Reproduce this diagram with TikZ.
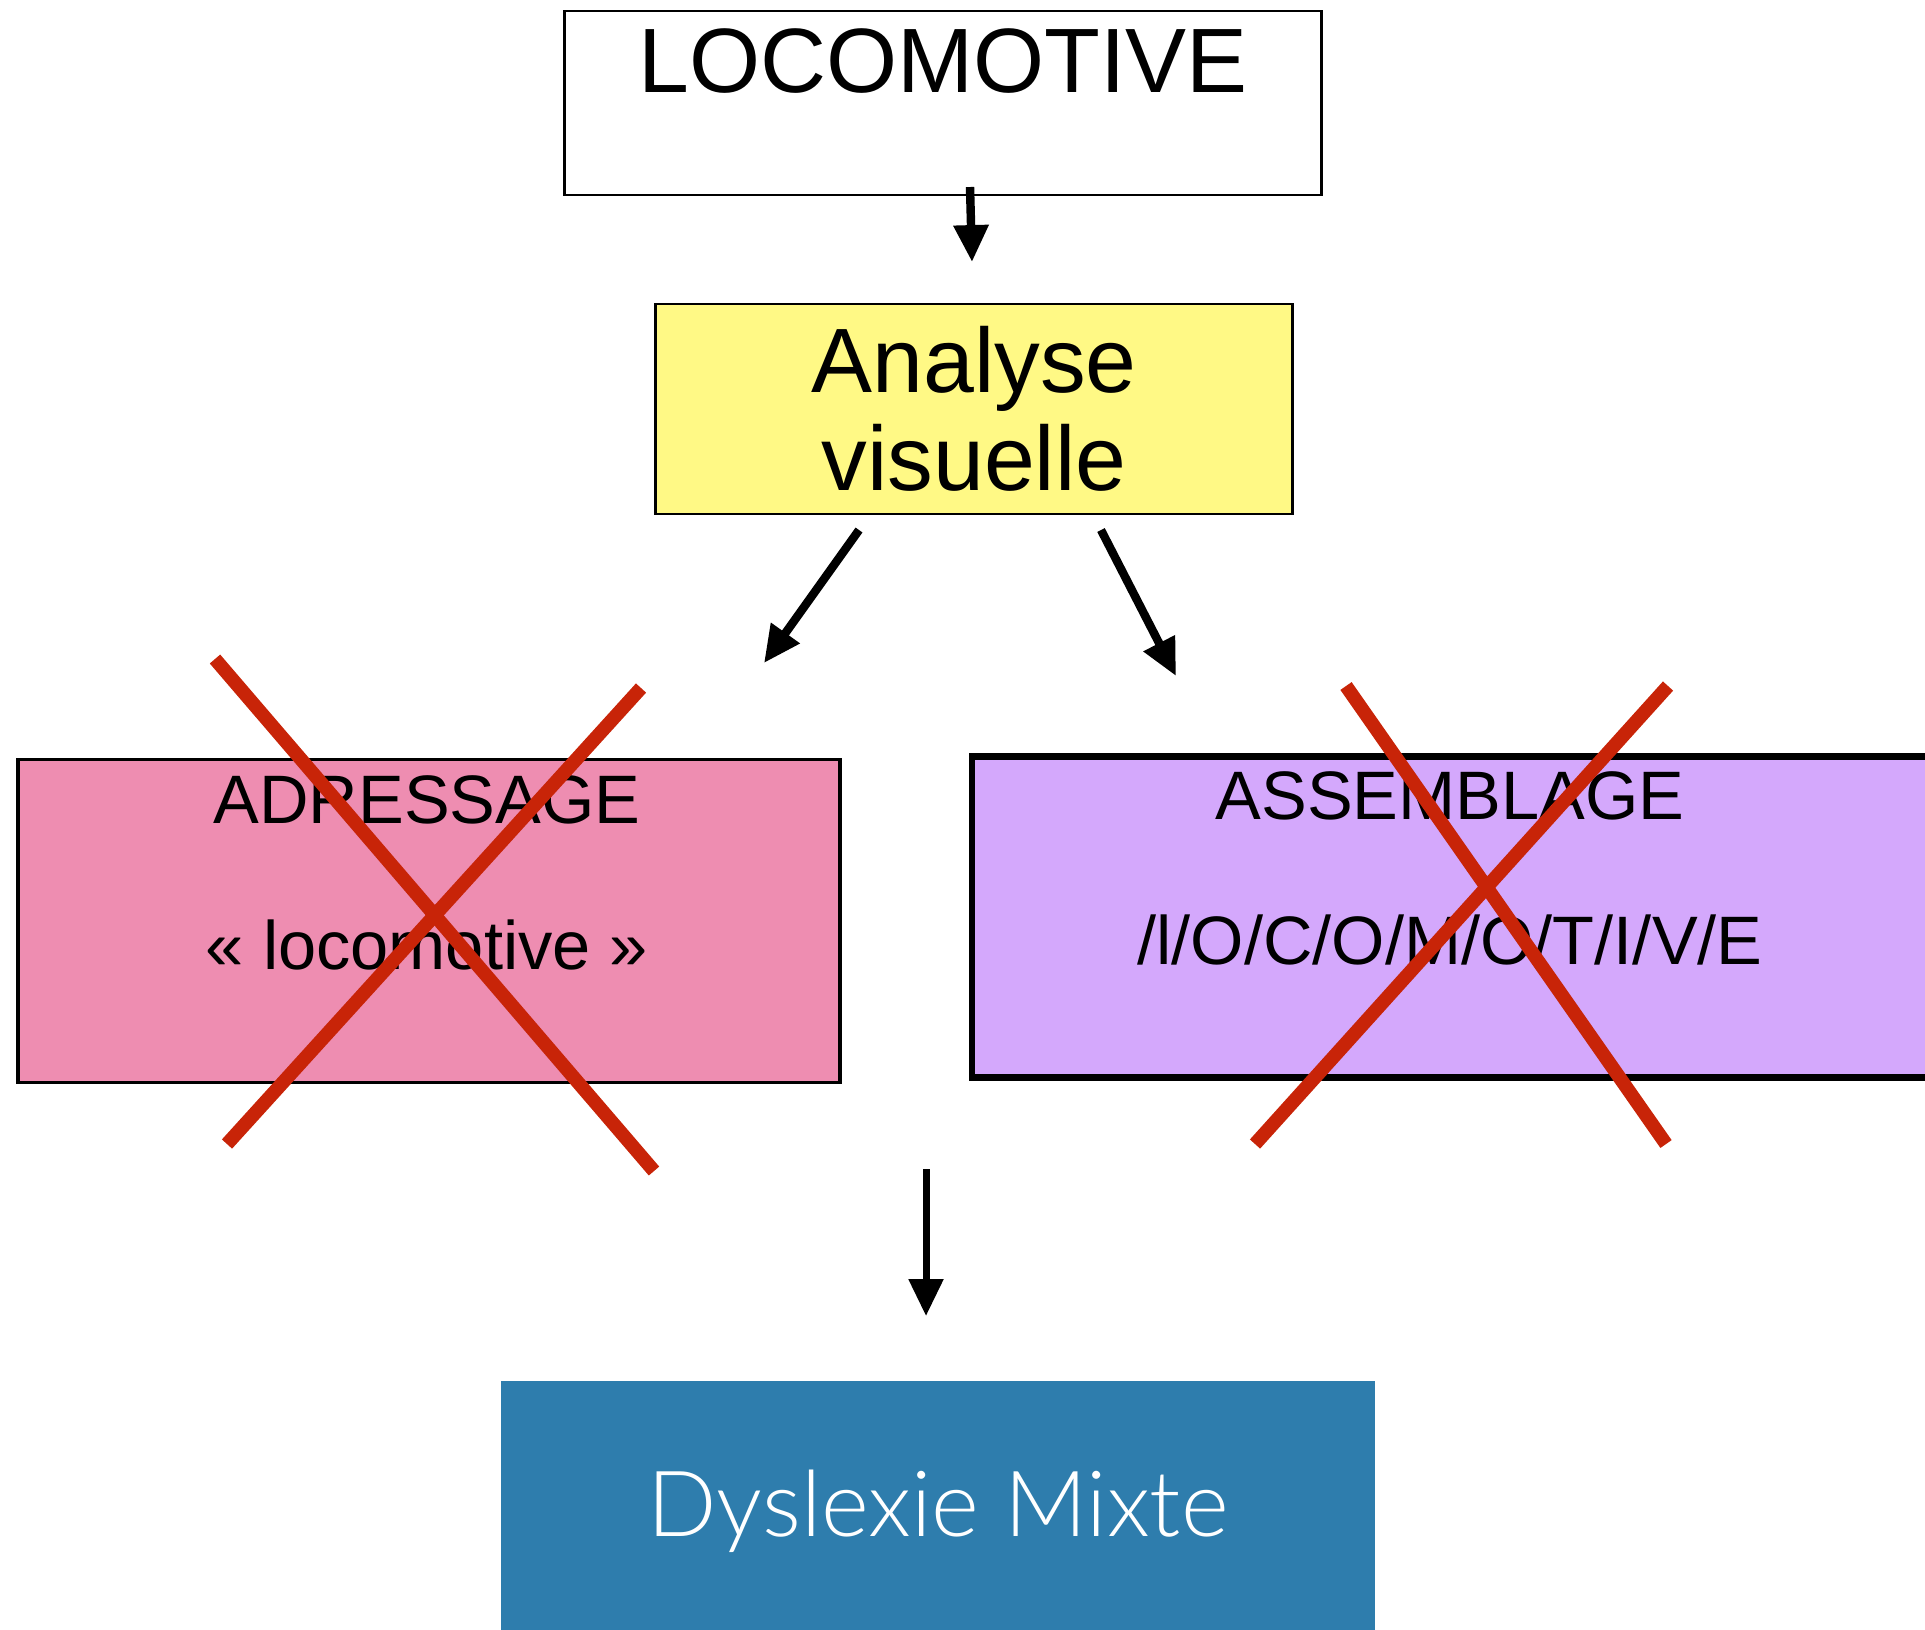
\documentclass[tikz,border=0pt]{standalone}
\usepackage{fontspec}
\setmainfont{Liberation Sans}
\newfontfamily\fineLato{Lato Light}
\usetikzlibrary{arrows.meta}

\definecolor{jaune}{HTML}{FFF985}
\definecolor{rose}{HTML}{EE8DB1}
\definecolor{mauve}{HTML}{D4A8FC}
\definecolor{bleu}{HTML}{2E7DAD}
\definecolor{rouge}{HTML}{C82408}

\tikzset{
  boite/.style={draw=black, rectangle, inner sep=0pt},
  grand/.style={font=\fontsize{26}{28}\selectfont, align=center},
  moyen/.style={font=\fontsize{19.5}{22}\selectfont},
  fleche/.style={line width=2.4pt, -{Triangle[length=10.5pt,width=9.5pt]}},
  croix/.style={draw=rouge, line width=3.9pt},
}

\begin{document}
\begin{tikzpicture}[x=0.01cm, y=-0.01cm]
  \useasboundingbox (0,0) rectangle (1925,1629);
  \clip (0,0) rectangle (1925,1629);

  % boites
  \node[boite, line width=0.8pt, minimum width=7.56cm, minimum height=1.84cm] (loco) at (943,103) {};
  \node[grand, anchor=base] (loco-mot) at (943,92) {LOCOMOTIVE};

  \node[boite, fill=jaune, line width=0.8pt, grand, minimum width=6.36cm, minimum height=2.10cm] (analyse) at (974,409) {Analyse\\visuelle};

  \node[boite, fill=rose, line width=1pt, minimum width=8.22cm, minimum height=3.23cm] (adr) at (429,921) {};
  \node[moyen] (adr-titre) at (427,800) {ADRESSAGE};
  \node[moyen] (adr-mot) at (427,945) {« locomotive »};

  \node[boite, fill=mauve, line width=1.8pt, minimum width=9.70cm, minimum height=3.21cm] (ass) at (1457,917) {};
  \node[moyen] (ass-titre) at (1450,796) {ASSEMBLAGE};
  \node[moyen] (ass-mot) at (1450,940) {/l/O/C/O/M/O/T/I/V/E};

  \node[rectangle, fill=bleu, text=white, font=\fineLato\fontsize{26}{30}\selectfont, minimum width=8.74cm, minimum height=2.60cm] (dys) at (938,1511) {Dyslexie Mixte};

  % fleches
  \coordinate (f1a) at (970,187);
  \coordinate (f1b) at (972,262);
  \coordinate (f2a) at (859,530);
  \coordinate (f2b) at (764,663);
  \coordinate (f3a) at (1101,530);
  \coordinate (f3b) at (1176,676);
  \coordinate (f4a) at (926,1169);
  \coordinate (f4b) at (926,1316);
  \draw[fleche] (f1a) -- (f1b);
  \draw[fleche] (f2a) -- (f2b);
  \draw[fleche] (f3a) -- (f3b);
  \draw[fleche, line width=2pt] (f4a) -- (f4b);

  % croix rouges
  \draw[croix] (215,659) -- (654,1171);
  \draw[croix] (641,688) -- (227,1144);
  \draw[croix] (1346,686) -- (1666,1144);
  \draw[croix] (1668,686) -- (1255,1144);
\end{tikzpicture}
\end{document}
